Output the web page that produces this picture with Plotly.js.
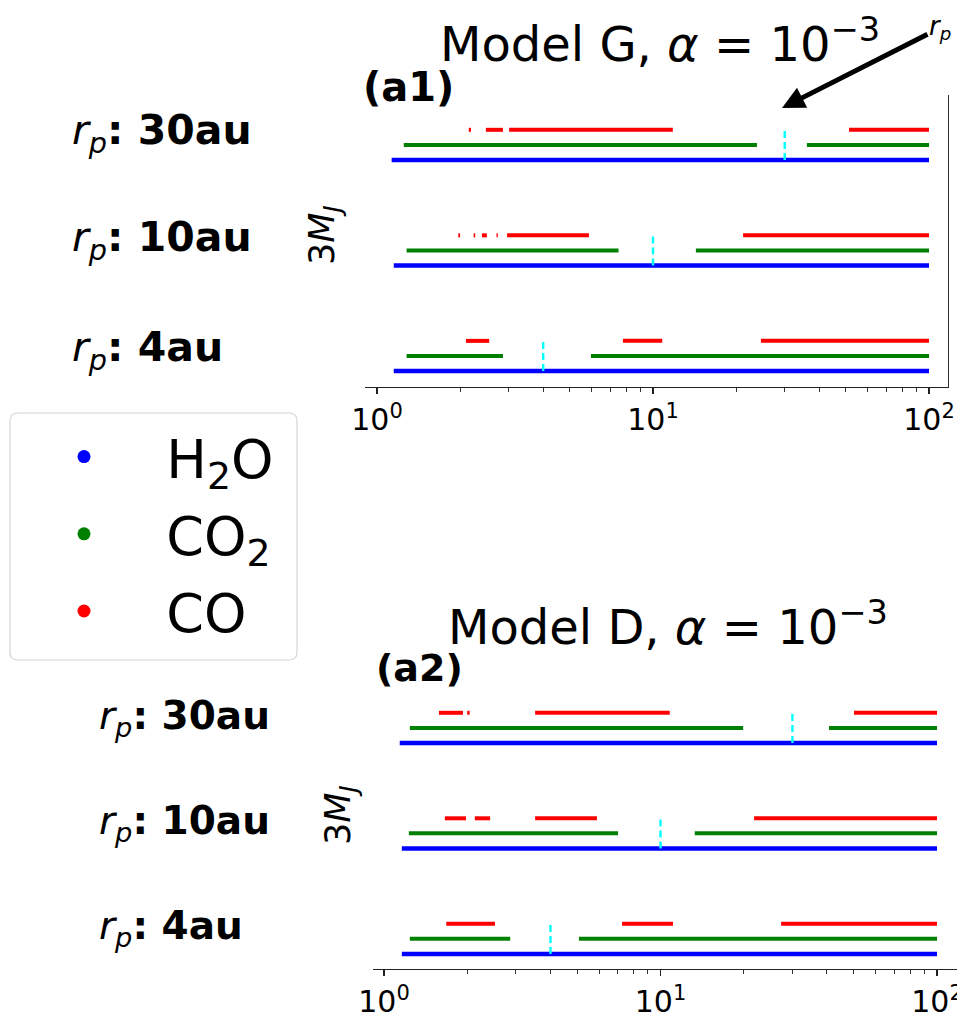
<!DOCTYPE html>
<html>
<head>
<meta charset="utf-8">
<script src="https://cdn.plot.ly/plotly-3.0.1.min.js"></script>
<style>html,body{margin:0;padding:0;background:#fff;}#chart{width:957px;height:1013px;}</style>
</head>
<body>
<div id="chart"></div>
<script>
// ---- data (rows ordered rp = 30, 10, 4 au) ----
const rpValues = [30, 10, 4];
const rowLabels = ['30au', '10au', '4au'];
const species = ['H<sub>2</sub>O', 'CO<sub>2</sub>', 'CO'];
const tickVals = [1, 10, 100];
const tickText = ['10<sup>0</sup>', '10<sup>1</sup>', '10<sup>2</sup>'];

// Model G, alpha = 1e-3 : frozen-out radial segments [start, end] in au
const modelG_H2O = [[[1.13, 100]], [[1.15, 100]], [[1.15, 100]]];
const modelG_CO2 = [[[1.25, 23.8], [36.1, 100]], [[1.28, 7.5], [14.3, 100]], [[1.28, 2.86], [5.96, 100]]];
const modelG_CO = [
  [[2.15, 2.19], [2.48, 2.86], [3.01, 11.8], [51.3, 100]],
  [[1.97, 2.0], [2.24, 2.27], [2.40, 2.50], [2.71, 2.74], [2.96, 5.86], [21.2, 100]],
  [[2.10, 2.55], [7.78, 10.8], [24.6, 100]]
];
// Model D, alpha = 1e-3
const modelD_H2O = [[[1.14, 100]], [[1.16, 100]], [[1.16, 100]]];
const modelD_CO2 = [[[1.24, 19.9], [40.7, 100]], [[1.23, 7.02], [13.3, 100]], [[1.24, 2.86], [5.07, 100]]];
const modelD_CO = [
  [[1.58, 1.93], [2.0, 2.04], [3.52, 10.8], [50.1, 100]],
  [[1.66, 1.98], [2.13, 2.42], [3.52, 5.89], [21.8, 100]],
  [[1.68, 2.52], [7.26, 11.1], [27.3, 100]]
];
const minorVals = [2, 3, 4, 5, 6, 7, 8, 9, 20, 30, 40, 50, 60, 70, 80, 90];

// ---- styles ----
const W = 957, H = 1013;
const colors = ['#0000ff', '#008000', '#ff0000'];
const widths = [4.5, 4, 4];
const FONT = 'DejaVu Sans, Liberation Sans, sans-serif';
const px = v => v / W;
const py = v => 1 - v / H;
const rowBase = [14, 7, 0]; // level of the H2O line per row

function buildPanel(segSets, xa, ya) {
  const traces = [];
  segSets.forEach((rows, s) => {
    const xs = [], ys = [];
    rows.forEach((segs, r) => {
      segs.forEach(seg => {
        xs.push(seg[0], seg[1], null);
        ys.push(rowBase[r] + s, rowBase[r] + s, null);
      });
    });
    traces.push({type: 'scatter', mode: 'lines', x: xs, y: ys, xaxis: xa, yaxis: ya,
      line: {color: colors[s], width: widths[s]}, showlegend: false, hoverinfo: 'skip'});
  });
  const cx = [], cy = [];
  rpValues.forEach((rp, r) => { cx.push(rp, rp, null); cy.push(rowBase[r], rowBase[r] + 2, null); });
  traces.push({type: 'scatter', mode: 'lines', x: cx, y: cy, xaxis: xa, yaxis: ya,
    line: {color: '#00ffff', width: 2.4, dash: '7px,4px'}, showlegend: false, hoverinfo: 'skip'});
  return traces;
}

let traces = [];
traces = traces.concat(buildPanel([modelG_H2O, modelG_CO2, modelG_CO], 'x', 'y'));
traces = traces.concat(buildPanel([modelD_H2O, modelD_CO2, modelD_CO], 'x2', 'y2'));
species.forEach((name, i) => {
  traces.push({type: 'scatter', mode: 'markers', x: [null], y: [null], xaxis: 'x', yaxis: 'y',
    name: '\u00a0\u00a0\u00a0\u2009' + name, legendgroup: 'g' + i,
    marker: {color: colors[i], size: 13}, showlegend: true});
});

function xaxis(domain, range, anchor) {
  return {type: 'log', domain: domain, range: range, anchor: anchor, showgrid: false, zeroline: false,
    showline: true, linecolor: '#222', linewidth: 1.2, ticklabeloverflow: 'allow',
    tickmode: 'array', tickvals: tickVals, ticktext: tickText, ticks: 'outside', ticklen: 6, tickwidth: 1.2, tickcolor: '#222',
    tickfont: {family: FONT, size: 30, color: '#000'}};
}
function minorAxis(domain, range, anchor, over) {
  return {type: 'log', domain: domain, range: range, anchor: anchor, overlaying: over, showgrid: false, zeroline: false,
    showline: false, tickmode: 'array', tickvals: minorVals, ticktext: minorVals.map(() => ''),
    ticks: 'outside', ticklen: 3.5, tickwidth: 1, tickcolor: '#333', showticklabels: false};
}
function yaxis(domain, range, anchor, showRight) {
  return {domain: domain, range: range, anchor: anchor, showgrid: false, zeroline: false, showticklabels: false, ticks: '',
    showline: showRight, side: 'right', linecolor: '#333', linewidth: 1.2, fixedrange: true};
}

const ann = [];
function txt(text, x, y, size, opts) {
  ann.push(Object.assign({text: text, x: px(x), y: py(y), xref: 'paper', yref: 'paper', showarrow: false,
    xanchor: 'left', yanchor: 'middle', font: {family: FONT, size: size, color: '#000'}}, opts || {}));
}
txt('Model G, <i>α</i> = 10<sup>−3</sup>', 660, 41, 48, {xanchor: 'center'});
txt('Model D, <i>α</i> = 10<sup>−3</sup>', 668, 624, 48, {xanchor: 'center'});
txt('<b>(a1)</b>', 361, 87, 40);
txt('<b>(a2)</b>', 374, 668, 38);
const topY = [133, 240, 350], botY = [718, 823, 928];
rowLabels.forEach((l, i) => {
  txt('<i>r</i><sub><i>p</i></sub><b>: ' + l + '</b>', 70, topY[i], 41);
  txt('<i>r</i><sub><i>p</i></sub><b>: ' + l + '</b>', 97, botY[i], 39);
});
txt('3<i>M</i><sub><i>J</i></sub>', 325, 235, 35, {xanchor: 'center', textangle: -90});
txt('3<i>M</i><sub><i>J</i></sub>', 340, 815, 35, {xanchor: 'center', textangle: -90});
ann.push({text: '<i>r</i><sub><i>p</i></sub>', xref: 'paper', yref: 'paper', x: px(782), y: py(108),
  ax: 158, ay: -80, showarrow: true, arrowhead: 2, arrowsize: 0.9, arrowwidth: 5, arrowcolor: '#000',
  font: {family: FONT, size: 26, color: '#000'}, standoff: 0});

// legend box with rounded corners
const L = 10, R = 297, T = 413, B = 660, rad = 8;
const path = `M ${px(L+rad)} ${py(T)} L ${px(R-rad)} ${py(T)} Q ${px(R)} ${py(T)} ${px(R)} ${py(T+rad)} L ${px(R)} ${py(B-rad)} Q ${px(R)} ${py(B)} ${px(R-rad)} ${py(B)} L ${px(L+rad)} ${py(B)} Q ${px(L)} ${py(B)} ${px(L)} ${py(B-rad)} L ${px(L)} ${py(T+rad)} Q ${px(L)} ${py(T)} ${px(L+rad)} ${py(T)} Z`;

const topXD = [px(365), px(948)], topXR = [-0.0435, 2.0688];
const botXD = [px(373), px(957)], botXR = [-0.0398, 2.0723];
const layout = {
  width: W, height: H, margin: {l: 0, r: 0, t: 0, b: 0}, paper_bgcolor: '#fff', plot_bgcolor: 'rgba(0,0,0,0)',
  xaxis: xaxis(topXD, topXR, 'y'),
  yaxis: yaxis([py(387), py(95)], [-1.06, 18.31], 'x', true),
  xaxis2: xaxis(botXD, botXR, 'y2'),
  yaxis2: yaxis([py(969), py(678)], [-1.0, 18.31], 'x2', false),
  xaxis3: minorAxis(topXD, topXR, 'y', 'x'),
  xaxis4: minorAxis(botXD, botXR, 'y2', 'x2'),
  annotations: ann,
  shapes: [{type: 'path', path: path, xref: 'paper', yref: 'paper', line: {color: '#d4d4d4', width: 1.2}, fillcolor: 'rgba(255,255,255,0.8)', layer: 'below'}],
  showlegend: true,
  legend: {x: px(64), y: py(415), xanchor: 'left', yanchor: 'top', bgcolor: 'rgba(0,0,0,0)', borderwidth: 0,
    font: {family: FONT, size: 54, color: '#000'}, traceorder: 'grouped', tracegroupgap: 4, itemclick: false}
};
// dummy traces so the minor-tick axes are drawn
traces.push({type: 'scatter', mode: 'lines', x: [null], y: [null], xaxis: 'x3', yaxis: 'y', showlegend: false, hoverinfo: 'skip'});
traces.push({type: 'scatter', mode: 'lines', x: [null], y: [null], xaxis: 'x4', yaxis: 'y2', showlegend: false, hoverinfo: 'skip'});

Plotly.newPlot('chart', traces, layout, {staticPlot: true, displayModeBar: false});
</script>
</body>
</html>
